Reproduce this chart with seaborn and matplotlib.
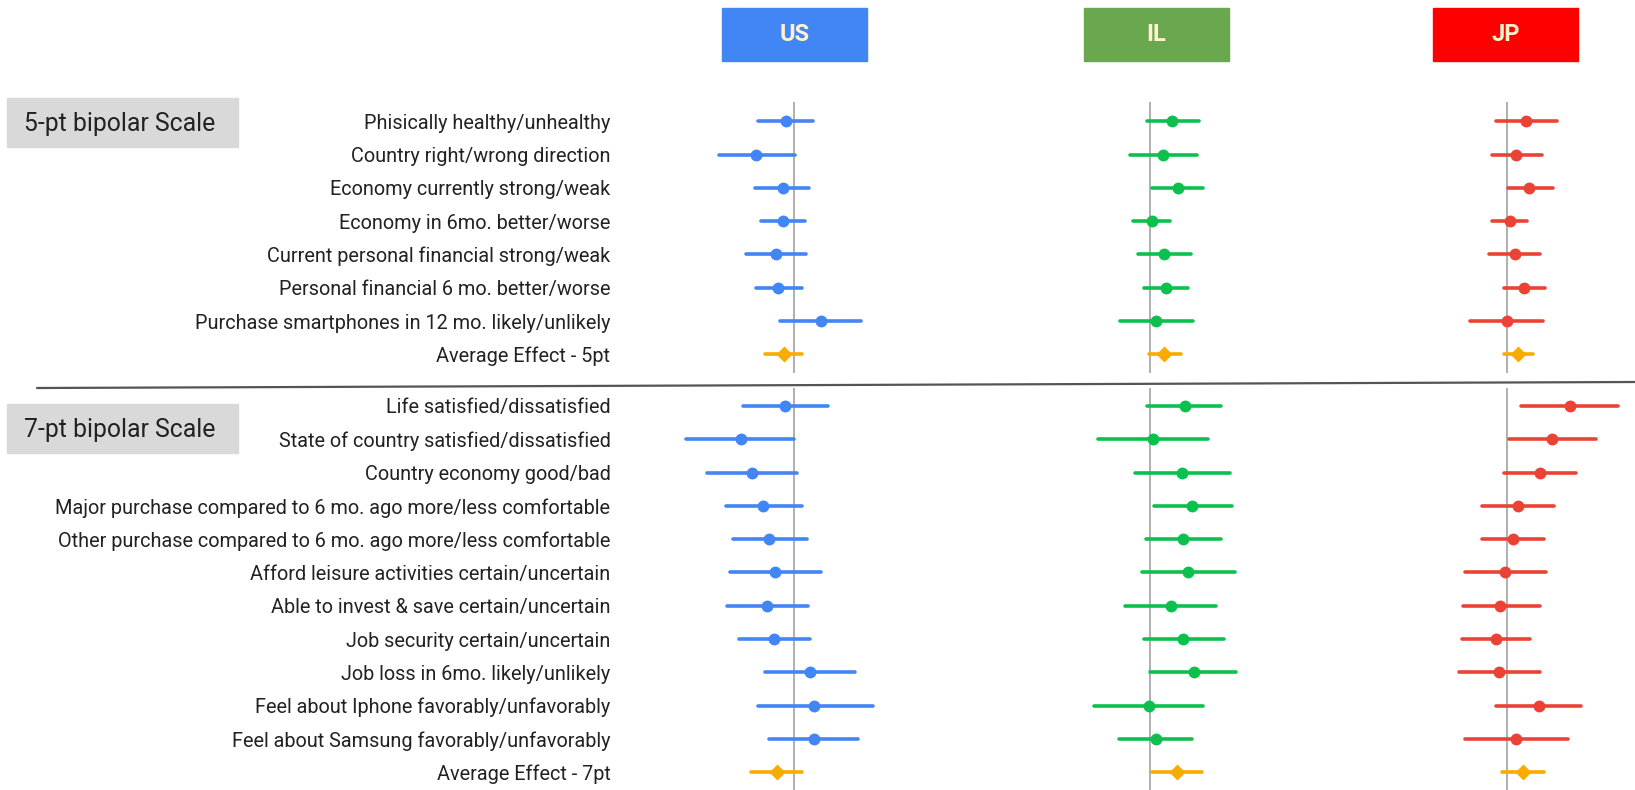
import numpy as np
import pandas as pd
import matplotlib
matplotlib.use("Agg")
import matplotlib.pyplot as plt
from matplotlib.patches import Rectangle
from matplotlib.lines import Line2D
import seaborn as sns

# ---------------- data ----------------
items_5pt = [
    "Phisically healthy/unhealthy",
    "Country right/wrong direction",
    "Economy currently strong/weak",
    "Economy in 6mo. better/worse",
    "Current personal financial strong/weak",
    "Personal financial 6 mo. better/worse",
    "Purchase smartphones in 12 mo. likely/unlikely",
    "Average Effect - 5pt",
]
items_7pt = [
    "Life satisfied/dissatisfied",
    "State of country satisfied/dissatisfied",
    "Country economy good/bad",
    "Major purchase compared to 6 mo. ago more/less comfortable",
    "Other purchase compared to 6 mo. ago more/less comfortable",
    "Afford leisure activities certain/uncertain",
    "Able to invest & save certain/uncertain",
    "Job security certain/uncertain",
    "Job loss in 6mo. likely/unlikely",
    "Feel about Iphone favorably/unfavorably",
    "Feel about Samsung favorably/unfavorably",
    "Average Effect - 7pt",
]
countries = ["US", "IL", "JP"]

# effect estimates with lower / upper interval bounds (last entry = average)
us_5pt_mid = [-0.042, -0.188, -0.055, -0.055, -0.088, -0.082, 0.133, -0.052]
us_5pt_lo = [-0.180, -0.375, -0.195, -0.165, -0.242, -0.188, -0.070, -0.147]
us_5pt_hi = [0.093, 0.005, 0.077, 0.053, 0.062, 0.038, 0.337, 0.042]

il_5pt_mid = [0.110, 0.063, 0.142, 0.008, 0.070, 0.078, 0.032, 0.072]
il_5pt_lo = [-0.015, -0.102, 0.010, -0.085, -0.062, -0.032, -0.148, -0.005]
il_5pt_hi = [0.245, 0.235, 0.267, 0.102, 0.205, 0.188, 0.213, 0.153]

jp_5pt_mid = [0.095, 0.047, 0.112, 0.017, 0.038, 0.087, 0.000, 0.057]
jp_5pt_lo = [-0.053, -0.075, 0.003, -0.075, -0.092, -0.013, -0.187, -0.017]
jp_5pt_hi = [0.252, 0.173, 0.228, 0.100, 0.167, 0.188, 0.182, 0.128]

us_7pt_mid = [-0.045, -0.267, -0.212, -0.157, -0.127, -0.093, -0.133, -0.100, 0.080, 0.102, 0.102, -0.087]
us_7pt_lo = [-0.257, -0.538, -0.437, -0.342, -0.303, -0.318, -0.335, -0.273, -0.147, -0.178, -0.123, -0.213]
us_7pt_hi = [0.172, 0.000, 0.015, 0.038, 0.063, 0.133, 0.070, 0.078, 0.305, 0.393, 0.322, 0.040]

il_7pt_mid = [0.173, 0.017, 0.158, 0.212, 0.165, 0.190, 0.103, 0.165, 0.220, -0.007, 0.032, 0.133]
il_7pt_lo = [-0.015, -0.258, -0.077, 0.018, -0.022, -0.038, -0.123, -0.030, 0.000, -0.280, -0.155, 0.010]
il_7pt_hi = [0.353, 0.292, 0.402, 0.408, 0.353, 0.425, 0.328, 0.368, 0.432, 0.267, 0.212, 0.258]

jp_7pt_mid = [0.313, 0.225, 0.165, 0.055, 0.030, -0.010, -0.033, -0.057, -0.040, 0.158, 0.045, 0.078]
jp_7pt_lo = [0.072, 0.008, -0.015, -0.123, -0.123, -0.210, -0.218, -0.227, -0.242, -0.053, -0.210, -0.027]
jp_7pt_hi = [0.557, 0.447, 0.345, 0.233, 0.187, 0.193, 0.163, 0.117, 0.163, 0.368, 0.305, 0.187]

sections = {
    "5pt": {
        "items": items_5pt,
        "US": (us_5pt_lo, us_5pt_mid, us_5pt_hi),
        "IL": (il_5pt_lo, il_5pt_mid, il_5pt_hi),
        "JP": (jp_5pt_lo, jp_5pt_mid, jp_5pt_hi),
    },
    "7pt": {
        "items": items_7pt,
        "US": (us_7pt_lo, us_7pt_mid, us_7pt_hi),
        "IL": (il_7pt_lo, il_7pt_mid, il_7pt_hi),
        "JP": (jp_7pt_lo, jp_7pt_mid, jp_7pt_hi),
    },
}

# ---------------- styling ----------------
point_colors = {"US": "#4285F4", "IL": "#0BC04D", "JP": "#EA4335"}
header_colors = {"US": "#4285F4", "IL": "#6AA84F", "JP": "#FF0000"}
avg_color = "#F9AB00"

sns.set_theme(style="white")
plt.rcParams["font.family"] = ["Roboto", "DejaVu Sans"]

W, H = 1635, 790
fig = plt.figure(figsize=(W / 100, H / 100), dpi=100)

def fig_rect(x0, y0, x1, y1):
    """Pixel box (top-left origin) -> figure fraction [left, bottom, width, height]."""
    return [x0 / W, 1 - y1 / H, (x1 - x0) / W, (y1 - y0) / H]

# panel geometry (pixels)
zero_x = {"US": 794, "IL": 1150, "JP": 1507}
half_w = 178
x_half = 0.89                      # data units for half_w pixels
row_gap = 33.3
section_geom = {
    # first row centre, top and bottom of the reference line
    "5pt": (121.3, 102, 373),
    "7pt": (406.0, 388, 790),
}

def long_form(lo, mid, hi, items):
    rows = []
    for k, item in enumerate(items):
        kind = "avg" if item.startswith("Average") else "item"
        for v in (lo[k], mid[k], hi[k]):
            rows.append({"item": item, "effect": v, "kind": kind})
    return pd.DataFrame(rows)

for sec, spec in sections.items():
    items = spec["items"]
    y_first, y_top, y_bot = section_geom[sec]
    for c in countries:
        z = zero_x[c]
        ax = fig.add_axes(fig_rect(z - half_w, y_top, z + half_w, y_bot))
        lo, mid, hi = spec[c]
        df = long_form(lo, mid, hi, items)
        ax.axvline(0, color="#9A9A9A", lw=1.1, zorder=0)
        sns.pointplot(
            data=df, x="effect", y="item", hue="kind", order=items,
            hue_order=["item", "avg"],
            palette={"item": point_colors[c], "avg": avg_color},
            markers=["o", "D"], linestyle="none",
            estimator="median", errorbar=("pi", 100),
            err_kws={"linewidth": 2.6}, markersize=6.5,
            dodge=False, legend=False, ax=ax,
        )
        ax.set_xlim(-x_half, x_half)
        ax.set_ylim((y_bot - y_first) / row_gap, (y_top - y_first) / row_gap)
        for s in ax.spines.values():
            s.set_visible(False)
        ax.set_xticks([])
        ax.set_xlabel("")
        ax.set_ylabel("")
        ax.set_facecolor("none")
        if c == "US":
            ax.tick_params(axis="y", length=0, pad=4, labelsize=14.3, labelcolor="#222222")
        else:
            ax.set_yticks([])

# country headers
header_boxes = {"US": (722, 8, 867, 61), "IL": (1084, 8, 1229, 61), "JP": (1433, 8, 1578, 61)}
for c, (x0, y0, x1, y1) in header_boxes.items():
    fig.patches.append(Rectangle((x0 / W, 1 - y1 / H), (x1 - x0) / W, (y1 - y0) / H,
                                 transform=fig.transFigure, color=header_colors[c], zorder=1))
    fig.text((x0 + x1) / 2 / W, 1 - (y0 + y1) / 2 / H, c, ha="center", va="center",
             fontsize=17, fontweight="bold", color="#FFF2CC")

# scale boxes
scale_boxes = [("5-pt bipolar Scale", (7, 98, 238, 147)), ("7-pt bipolar Scale", (7, 404, 238, 453))]
for label, (x0, y0, x1, y1) in scale_boxes:
    fig.patches.append(Rectangle((x0 / W, 1 - y1 / H), (x1 - x0) / W, (y1 - y0) / H,
                                 transform=fig.transFigure, color="#D9D9D9", zorder=1))
    fig.text((x0 + 17) / W, 1 - ((y0 + y1) / 2 + 1) / H, label, ha="left", va="center",
             fontsize=17.8, color="#222222")

# divider between the two scale sections
fig.lines.append(Line2D([37 / W, 1.0], [1 - 388 / H, 1 - 382 / H], transform=fig.transFigure,
                        color="#555555", lw=1.6))

fig.savefig("out.png", dpi=100, facecolor="white")
